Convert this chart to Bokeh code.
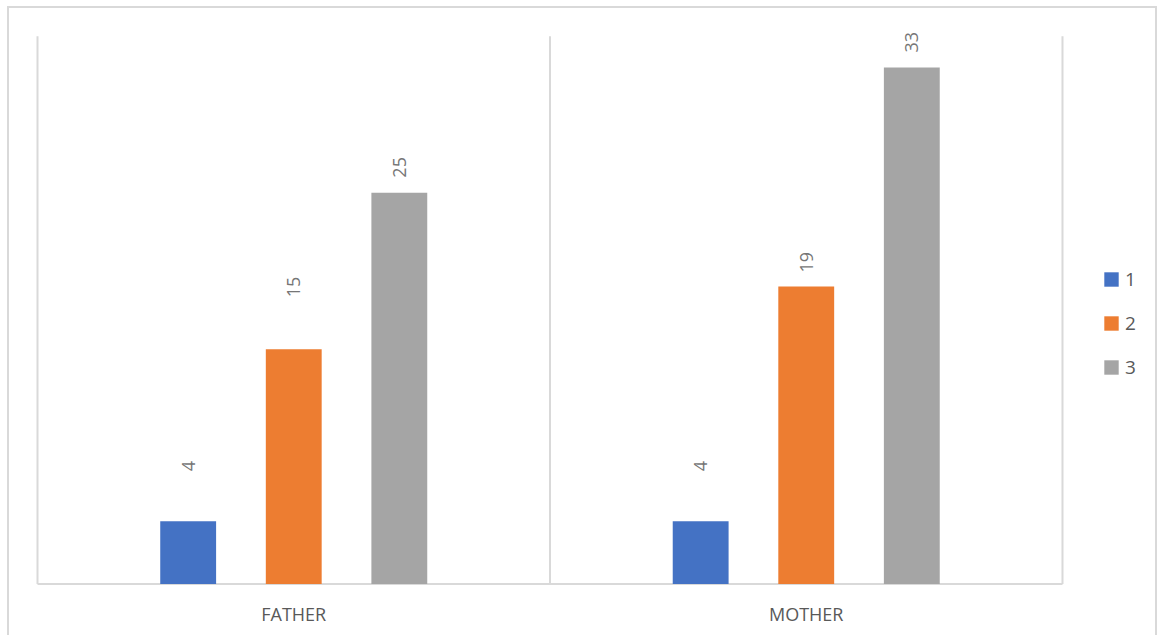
import math
from bokeh.plotting import figure
from bokeh.models import ColumnDataSource, Range1d, Legend, LegendItem, FixedTicker
from bokeh.core.properties import value
from bokeh.embed import file_html
from bokeh.resources import INLINE

# ---- data ----
categories = ["FATHER", "MOTHER"]
series_names = ["1", "2", "3"]
series_1 = [4, 4]
series_2 = [15, 19]
series_3 = [25, 33]
value_axis_max = 35

# ---- styling (not data) ----
colors = ["#4472C4", "#ED7D31", "#A5A5A5"]
offsets = [-0.206, 0.0, 0.206]
bar_width = 0.109
label_gaps = [[50, 50], [52, 14], [15, 15]]   # px between bar top and its label
FONT = "Open Sans"
GRID = "#d9d9d9"

centers = [i + 0.5 for i in range(len(categories))]
series_vals = [series_1, series_2, series_3]

p = figure(x_range=Range1d(-0.0039, 2.1893), y_range=Range1d(-0.1, 36),
           width=1150, height=629, output_backend="svg", toolbar_location=None,
           min_border_left=26, min_border_right=0, min_border_top=12, min_border_bottom=52)
p.styles = {"margin-left": "7px", "margin-top": "6px",
            "border-top": "2px solid #d9d9d9", "border-left": "2px solid #d9d9d9",
            "border-right": "2px solid #d9d9d9"}
p.outline_line_color = None
p.background_fill_color = "white"
p.border_fill_color = "white"
p.xgrid.grid_line_color = None
p.ygrid.grid_line_color = None
p.yaxis.visible = False

p.xaxis.ticker = FixedTicker(ticks=centers)
p.xaxis.major_label_overrides = {c: name for c, name in zip(centers, categories)}
p.xaxis.axis_line_color = None
p.xaxis.major_tick_line_color = None
p.xaxis.minor_tick_line_color = None
p.xaxis.major_label_text_font = FONT
p.xaxis.major_label_text_font_size = "18px"
p.xaxis.major_label_text_color = "#595959"
p.xaxis.major_label_standoff = 10

# category separators and baseline
sep_x = list(range(len(categories) + 1))
p.segment(x0=sep_x, x1=sep_x, y0=[0] * len(sep_x), y1=[value_axis_max] * len(sep_x),
          line_color=GRID, line_width=2)
p.segment(x0=[0], x1=[len(categories)], y0=[0], y1=[0], line_color=GRID, line_width=2)

items = []
for i, vals in enumerate(series_vals):
    src = ColumnDataSource(dict(
        x=[c + offsets[i] for c in centers],
        top=vals,
        txt=[str(v) for v in vals],
        gap=[-g for g in label_gaps[i]],
    ))
    r = p.vbar(x="x", top="top", bottom=0, width=bar_width, source=src,
               fill_color=colors[i], line_color=None)
    items.append(LegendItem(label=series_names[i], renderers=[r]))
    p.text(x="x", y="top", text="txt", source=src,
           angle=math.pi / 2, y_offset="gap", text_align="left", text_baseline="middle",
           text_font=value(FONT), text_font_size="18px", text_color="#767676")

legend = Legend(items=items, location=(1067, 205), orientation="vertical",
                glyph_width=18, glyph_height=18, label_height=18, spacing=18,
                label_text_font=FONT, label_text_font_size="19px", label_text_color="#595959",
                border_line_color=None, background_fill_alpha=0, padding=0, margin=0,
                label_standoff=5)
p.add_layout(legend, "center")

open("out.html", "w").write(file_html(p, INLINE))
